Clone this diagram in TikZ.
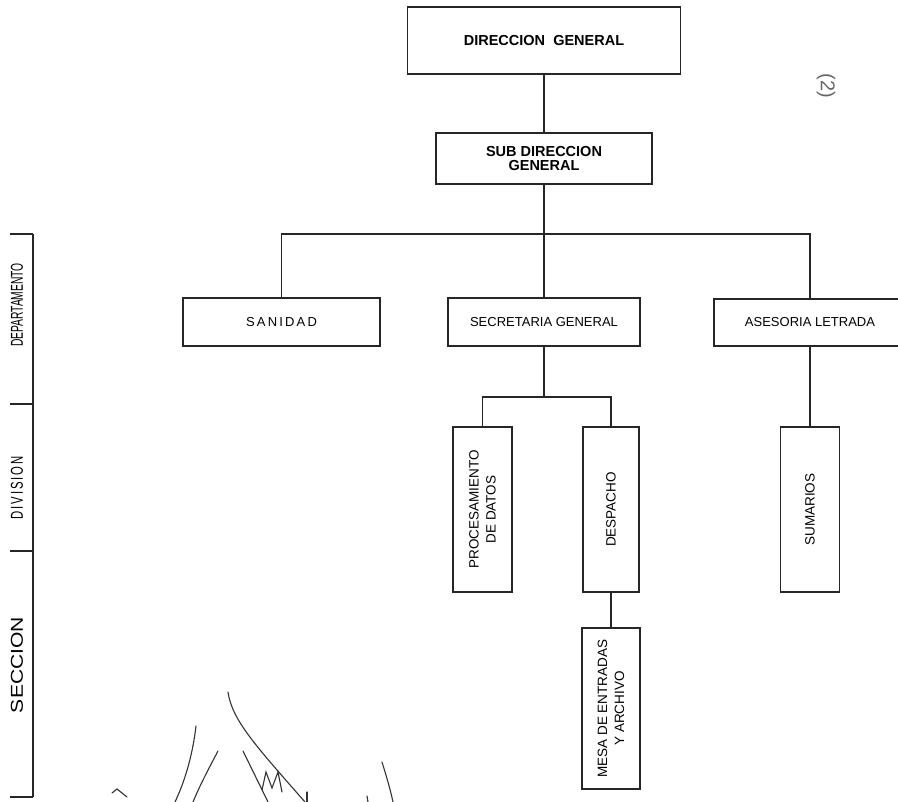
\documentclass[tikz,border=0pt]{standalone}
\usepackage{fontspec}
\setmainfont{Liberation Sans}
\usepackage{graphicx}
\usepackage{tikz}

\tikzset{
  unit/.style={draw=black!85, line width=1.6pt, inner sep=0pt, align=center,
    font=\fontsize{13}{15}\selectfont},
  head/.style={unit, font=\fontsize{14.5}{14}\selectfont\bfseries},
  vunit/.style={unit, rotate=90, font=\fontsize{13.5}{17}\selectfont},
  link/.style={draw=black!85, line width=1.4pt},
  level/.style={rotate=90, inner sep=0pt},
  sig/.style={draw=black!80, line width=1.1pt, line cap=round},
}

\begin{document}
\begin{tikzpicture}[x=1pt, y=-1pt]
    \useasboundingbox (0,0) rectangle (898,802);

    % top
    \node[head, minimum width=273pt, minimum height=67pt] (dg) at (544,40.5) {DIRECCION\ \ GENERAL};
    \node[head, minimum width=216pt, minimum height=51pt] (sdg) at (544,158.5) {SUB DIRECCION\\GENERAL};

    % departamentos
    \node[unit, minimum width=197pt, minimum height=48pt] (san) at (281.5,322) {S\,A\,N\,I\,D\,A\,D};
    \node[unit, minimum width=192pt, minimum height=48pt] (sgen) at (544,322) {SECRETARIA GENERAL};
    \node[unit, minimum width=192pt, minimum height=47pt] (ase) at (810,322.5) {ASESORIA LETRADA};

    % divisiones y seccion
    \node[vunit, minimum width=165pt, minimum height=59pt] (proc) at (482.5,509.5) {PROCESAMIENTO\\DE DATOS};
    \node[vunit, minimum width=165pt, minimum height=56pt] (desp) at (611,509.5) {DESPACHO};
    \node[vunit, minimum width=165pt, minimum height=59pt] (sum) at (810,509.5) {SUMARIOS};
    \node[vunit, minimum width=161pt, minimum height=58pt] (mesa) at (611,708.5) {MESA DE ENTRADAS\\Y ARCHIVO};

    \coordinate (busA) at (544,234);
    \coordinate (busB) at (544,397);

    \draw[link] (dg) -- (sdg);
    \draw[link] (sdg.south) -- (sgen.north);
    \draw[link] (san.north) |- (busA) -| (ase.north);
    \draw[link] (sgen.south) -- (busB);
    \draw[link] (proc.east) |- (busB) -| (desp.east);
    \draw[link] (desp.west) -- (mesa.east);
    \draw[link] (ase.south) -- (sum.east);

    % niveles
    \draw[link] (33,234) -- (33,797);
    \foreach \y in {234,404,551,797}
        \draw[link] (10,\y) -- (33,\y);
    \node[level] (ldep) at (17,305) {\resizebox{84pt}{12pt}{DEPARTAMENTO}};
    \node[level] (ldiv) at (17,488) {\resizebox{63pt}{12pt}{D\,I\,V\,I\,S\,I\,O\,N}};
    \node[level] (lsec) at (17,665) {\resizebox{96pt}{12pt}{SECCION}};

    % folio
    \node[rotate=-90, text=black!60, font=\fontsize{20}{20}\selectfont] (folio) at (826,86) {(2)};

    % firma
    \draw[sig] (112,793) -- (117,789) -- (127,797);
    \draw[sig] (196,726) .. controls (192,760) and (183,785) .. (175,802);
    \draw[sig] (218,751) .. controls (208,770) and (200,785) .. (193,802);
    \draw[sig] (228,692) .. controls (232,720) and (255,745) .. (305,802);
    \draw[sig] (243,751) -- (268,802);
    \draw[sig] (262,790) -- (266,772) -- (272,788) -- (278,772) -- (282,792);
    \draw[sig] (382,762) .. controls (386,775) and (390,788) .. (393,802);
    \draw[sig] (367,796) -- (368,802);
    \draw[sig] (307,792) -- (307,802);
\end{tikzpicture}
\end{document}
